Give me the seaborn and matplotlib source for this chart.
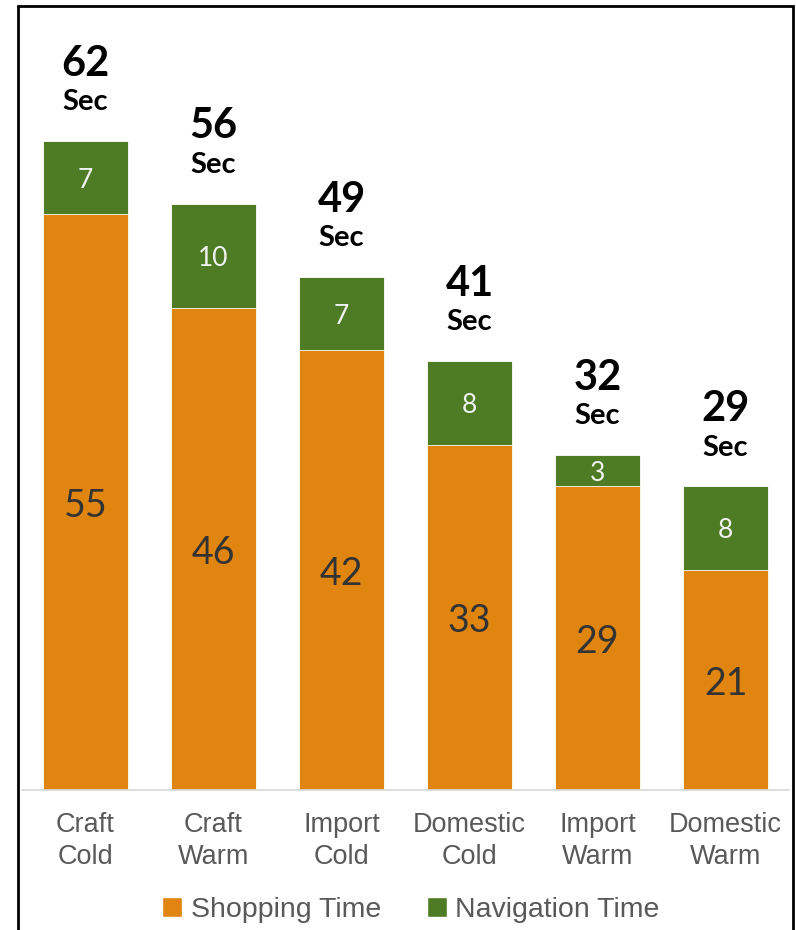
import matplotlib
matplotlib.use("Agg")
import matplotlib.pyplot as plt
import seaborn as sns
import pandas as pd
from matplotlib.patches import Patch, Rectangle

# Average time per beer category, in seconds
categories = ["Craft\nCold", "Craft\nWarm", "Import\nCold",
              "Domestic\nCold", "Import\nWarm", "Domestic\nWarm"]
shopping_time = [55, 46, 42, 33, 29, 21]
navigation_time = [7, 10, 7, 8, 3, 8]

ORANGE = "#E08510"
GREEN = "#4E7C24"

df = pd.DataFrame({
    "category": categories,
    "shopping": shopping_time,
    "navigation": navigation_time,
})
df["total"] = df["shopping"] + df["navigation"]

sns.set_theme(style="white")
plt.rcParams["font.family"] = ["Lato", "DejaVu Sans"]

fig = plt.figure(figsize=(7.96, 9.30), dpi=100)
W, H = 796, 930
ax = fig.add_axes([21.5 / W, (H - 790) / H, 768 / W, 760 / H])

# Stacked bars: full total in green, shopping portion drawn over it in orange
sns.barplot(data=df, x="category", y="total", color=GREEN, saturation=1,
            width=0.664, edgecolor="white", linewidth=0.6, ax=ax)
sns.barplot(data=df, x="category", y="shopping", color=ORANGE, saturation=1,
            width=0.664, edgecolor="white", linewidth=0.6, ax=ax)

ax.set_xlim(-0.5, 5.5)
ax.set_ylim(0, 72.6)
ax.set_xlabel("")
ax.set_ylabel("")
ax.set_yticks([])
for side in ["top", "left", "right"]:
    ax.spines[side].set_visible(False)
ax.spines["bottom"].set_color("#D9D9D9")
ax.spines["bottom"].set_linewidth(1.2)

ax.tick_params(axis="x", length=0, pad=16)
for lbl in ax.get_xticklabels():
    lbl.set_fontfamily(["Liberation Sans", "DejaVu Sans"])
    lbl.set_fontsize(19.5)
    lbl.set_color("#595959")
    lbl.set_linespacing(1.3)

for i, (s, n, t) in enumerate(zip(df["shopping"], df["navigation"], df["total"])):
    # segment values
    ax.text(i, s / 2, f"{s}", ha="center", va="center_baseline", fontsize=27,
            color="#333333", family=["Lato", "DejaVu Sans"])
    ax.text(i, s + n / 2, f"{n}", ha="center", va="center_baseline", fontsize=19,
            color="#F2F2F2", family=["Lato", "DejaVu Sans"])
    # totals above each bar
    ax.annotate("Sec", xy=(i, t), xytext=(0, 22), textcoords="offset points",
                ha="center", va="baseline", fontsize=21, fontweight="bold",
                color="black", family=["Lato", "DejaVu Sans"])
    ax.annotate(f"{t}", xy=(i, t), xytext=(0, 47), textcoords="offset points",
                ha="center", va="baseline", fontsize=30, fontweight="bold",
                color="black", family=["Lato", "DejaVu Sans"])

handles = [Patch(facecolor=ORANGE, label="Shopping Time"),
           Patch(facecolor=GREEN, label="Navigation Time")]
leg = fig.legend(handles=handles, loc="center", bbox_to_anchor=(411 / W, 1 - 910 / H),
                 ncol=2, frameon=False, handlelength=0.7, handleheight=0.7,
                 handletextpad=0.3, columnspacing=1.6,
                 prop={"family": ["Liberation Sans", "DejaVu Sans"], "size": 20.5})
for txt in leg.get_texts():
    txt.set_color("#595959")

# Chart frame
fig.patches.append(Rectangle((18 / W, -0.05), (793 - 18) / W, 1.05 - 6 / H,
                             transform=fig.transFigure, fill=False,
                             edgecolor="black", linewidth=2))

fig.savefig("out.png", dpi=100)
